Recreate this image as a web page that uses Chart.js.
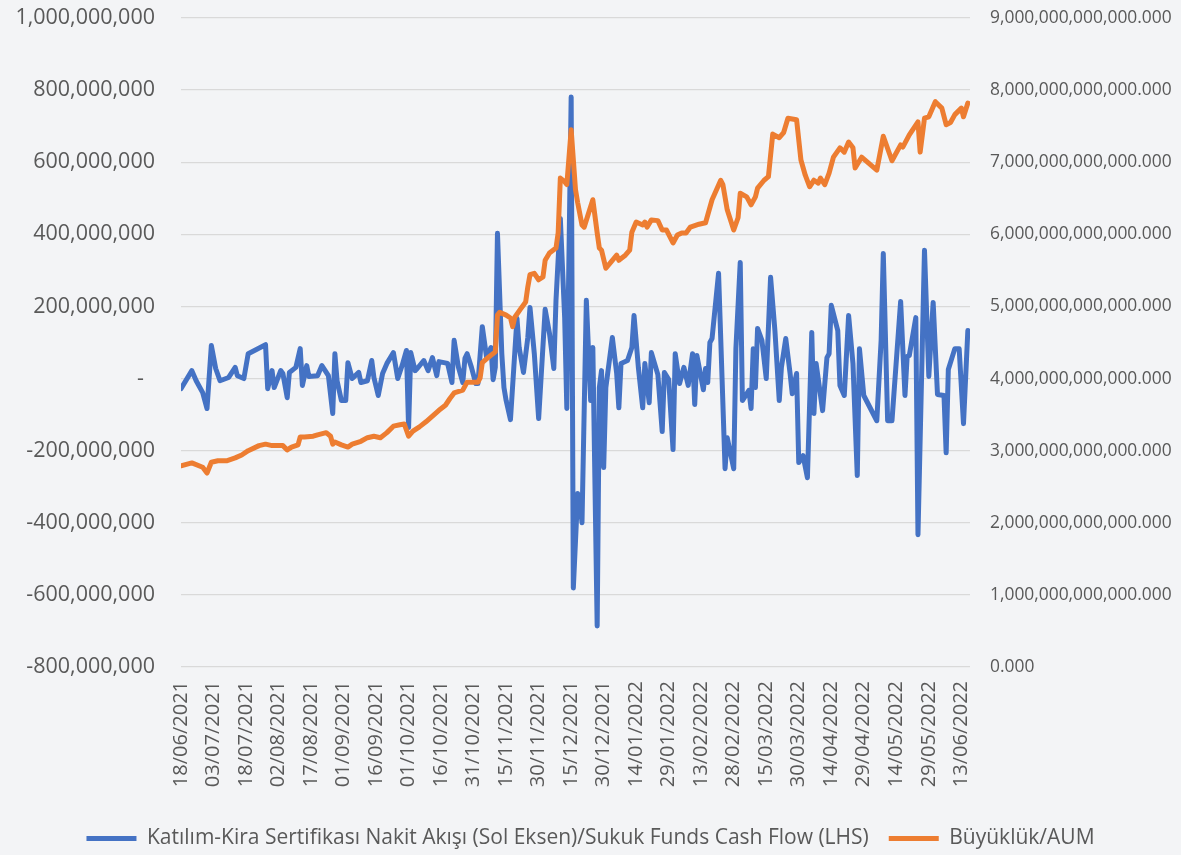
<!DOCTYPE html>
<html>
<head>
<meta charset="utf-8">
<script src="https://cdn.jsdelivr.net/npm/chart.js@4/dist/chart.umd.min.js"></script>
<style>
html,body{margin:0;padding:0;background:#f3f4f6;}
#wrap{width:1181px;height:855px;position:relative;}
</style>
</head>
<body>
<div id="wrap"><canvas id="c" width="1181" height="855"></canvas></div>
<script>
// ---- data (x = days since 18/06/2021) ----
const startDate = [2021, 6, 18];
const seriesNames = ["Katılım-Kira Sertifikası Nakit Akışı (Sol Eksen)/Sukuk Funds Cash Flow (LHS)", "Büyüklük/AUM"];

const flowDays = [0,5,7,10,12,14,16,18,22,25,26,29,31,39,40,42,43,46,47,49,50,53,55,56,58,59,63,65,68,70,
71,72,74,76,77,79,82,83,86,88,89,91,93,95,98,100,102,104,105,106,108,109,112,114,116,118,119,123,125,126,
128,130,131,132,134,136,137,139,141,143,144,145,146,148,149,150,152,155,156,158,160,161,163,165,168,170,172,173,175,177,
178,180,181,183,184,185,187,189,190,192,193,194,195,196,199,201,202,203,206,208,209,211,213,214,216,217,220,222,223,225,
227,228,230,232,234,236,237,238,241,242,243,244,245,248,251,252,255,256,258,259,262,263,264,265,266,268,270,272,274,276,
277,279,281,282,284,285,287,289,291,292,293,296,298,299,300,303,304,306,308,310,312,313,315,321,323,324,326,328,332,334,
335,336,339,340,343,345,347,349,352,353,354,357,359,361,363];
// cash flow, millions
const flowValuesM = [-28,22,-6,-39,-83,92,28,-6,3,31,8,0,69,94,-28,22,-25,22,14,-53,17,31,83,-19,36,6,8,36,8,-97,
69,-6,-61,-61,44,0,17,-11,-6,50,3,-47,14,42,72,0,36,78,-136,72,22,28,50,22,58,8,47,42,-11,106,
31,-11,56,69,31,-14,-14,144,58,86,-3,31,403,69,-25,-61,-114,167,86,17,114,197,69,-111,192,125,28,217,444,169,
-83,781,-581,-319,-339,-400,217,-61,86,-686,-25,22,-247,-25,114,14,-81,42,50,86,175,31,-81,42,-67,72,11,-147,17,-3,
-197,69,-14,31,-19,69,-72,64,-31,28,-11,100,111,292,-250,-164,-250,83,322,-61,-33,-83,83,-25,139,106,0,281,133,-61,
31,111,14,-42,14,-233,-214,-275,128,-97,42,-89,58,69,203,133,-19,-47,175,42,-269,83,-47,-117,106,347,-117,-117,214,-47,
61,64,169,-433,356,6,211,-44,-47,-206,25,83,83,-125,133];

const aumDays = [0,5,10,12,14,17,21,25,28,31,36,39,42,47,49,51,54,55,57,61,63,67,69,70,71,74,77,79,83,86,
89,92,95,98,101,103,105,107,110,113,116,119,122,124,126,130,132,137,138,139,142,145,146,147,150,152,153,154,157,159,
160,161,163,165,167,168,170,173,174,175,177,178,180,182,183,185,186,190,192,193,194,196,199,201,202,205,207,208,210,213,
214,215,217,220,222,224,227,229,231,233,235,237,239,242,245,249,250,252,255,257,258,261,263,265,266,269,271,273,276,278,
280,284,286,288,290,292,294,295,297,299,301,304,306,308,310,311,314,321,324,328,332,333,336,340,341,343,345,348,351,353,
355,357,360,361,363];
// AUM, trillions
const aumValuesT = [2.79,2.83,2.77,2.69,2.84,2.86,2.86,2.90,2.94,3.00,3.07,3.09,3.07,3.07,3.01,3.05,3.08,3.19,3.19,3.20,
3.22,3.25,3.20,3.09,3.12,3.08,3.05,3.09,3.13,3.18,3.20,3.18,3.25,3.34,3.36,3.37,3.20,3.27,3.33,3.40,
3.48,3.56,3.63,3.72,3.80,3.84,3.95,3.95,4.01,4.22,4.30,4.37,4.88,4.92,4.88,4.84,4.72,4.85,4.98,5.06,
5.27,5.44,5.46,5.37,5.41,5.64,5.74,5.81,6.02,6.78,6.73,6.69,7.45,6.62,6.44,6.13,6.10,6.48,6.02,5.81,
5.78,5.53,5.64,5.71,5.64,5.71,5.78,6.03,6.17,6.13,6.17,6.10,6.20,6.19,6.06,6.06,5.88,5.99,6.02,6.02,
6.10,6.12,6.14,6.16,6.48,6.75,6.69,6.34,6.06,6.23,6.57,6.52,6.41,6.52,6.64,6.75,6.80,7.39,7.34,7.41,
7.61,7.59,7.03,6.82,6.66,6.75,6.71,6.78,6.69,6.85,7.07,7.20,7.14,7.28,7.20,6.92,7.07,6.89,7.36,7.02,
7.24,7.21,7.38,7.56,7.14,7.61,7.63,7.84,7.75,7.52,7.55,7.66,7.75,7.63,7.82];

const leftTicksM = [-800,-600,-400,-200,0,200,400,600,800,1000];
const rightTicksT = [0,1,2,3,4,5,6,7,8,9];
const xTickStepDays = 15;
const xMaxDay = 364;

// ---- helpers ----
function groupDigits(n){
  const neg = n < 0; let s = Math.round(Math.abs(n)).toString();
  s = s.replace(/\B(?=(\d{3})+(?!\d))/g, ",");
  return (neg ? "-" : "") + s;
}
function dayLabel(d){
  const dt = new Date(startDate[0], startDate[1]-1, startDate[2] + d);
  const dd = String(dt.getDate()).padStart(2,"0");
  const mm = String(dt.getMonth()+1).padStart(2,"0");
  return dd + "/" + mm + "/" + dt.getFullYear();
}

const BLUE = "#4472C4", ORANGE = "#ED7D31", TXT = "#595959", GRID = "#d9d9d9";
const FONT = "'Open Sans', 'Noto Sans', sans-serif";
const PLOT_BOTTOM = 667;

const bgPlugin = {
  id: "bg",
  beforeDraw(chart){
    const c = chart.ctx; c.save();
    c.fillStyle = "#f3f4f6"; c.fillRect(0,0,chart.width,chart.height);
    c.restore();
  }
};

new Chart(document.getElementById("c"), {
  type: "line",
  data: {
    datasets: [
      {
        label: seriesNames[0],
        data: flowDays.map((d,i)=>({x:d, y:flowValuesM[i]})),
        yAxisID: "yL",
        borderColor: BLUE, backgroundColor: BLUE,
        borderWidth: 5, pointRadius: 0, tension: 0,
        borderJoinStyle: "round", borderCapStyle: "round",
        order: 2
      },
      {
        label: seriesNames[1],
        data: aumDays.map((d,i)=>({x:d, y:aumValuesT[i]})),
        yAxisID: "yR",
        borderColor: ORANGE, backgroundColor: ORANGE,
        borderWidth: 5, pointRadius: 0, tension: 0,
        borderJoinStyle: "round", borderCapStyle: "round",
        order: 1
      }
    ]
  },
  options: {
    responsive: false,
    devicePixelRatio: 1,
    animation: false,
    layout: { padding: { top: 18, bottom: -4, left: 0, right: 0 } },
    plugins: {
      tooltip: { enabled: false },
      legend: {
        position: "bottom",
        labels: {
          color: TXT,
          font: { family: FONT, size: 21, lineHeight: 0.75 },
          boxWidth: 50, boxHeight: 5, padding: 20,
          generateLabels(chart){
            return chart.data.datasets.map((ds,i)=>({
              text: ds.label, fillStyle: ds.borderColor, strokeStyle: ds.borderColor,
              lineWidth: 0, hidden: false, datasetIndex: i, fontColor: TXT
            }));
          }
        }
      }
    },
    scales: {
      x: {
        type: "linear", min: 0, max: xMaxDay,
        grid: { display: false, drawTicks: false },
        border: { display: false },
        afterFit(s){
          const lh = s.chart.legend ? s.chart.legend.height : 50;
          s.height = s.chart.height + 4 - lh - PLOT_BOTTOM;
          s.paddingLeft = 0; s.paddingRight = 0;
        },
        ticks: {
          stepSize: xTickStepDays, autoSkip: false, includeBounds: false,
          maxRotation: 90, minRotation: 90, padding: 14,
          color: TXT, font: { family: FONT, size: 20 },
          callback: (v)=> dayLabel(v)
        }
      },
      yL: {
        position: "left", min: -800, max: 1000,
        afterFit(s){ s.width = 181; s.paddingTop = 0; s.paddingBottom = 0; },
        afterBuildTicks(s){ s.ticks = leftTicksM.map(v=>({value:v})); },
        grid: { color: GRID, lineWidth: 1.3, drawTicks: false },
        border: { display: false },
        ticks: {
          padding: 26, color: TXT, font: { family: FONT, size: 21.5 },
          callback: (v)=> v === 0 ? "-  " : groupDigits(v*1e6)
        }
      },
      yR: {
        position: "right", min: 0, max: 9,
        afterFit(s){ s.width = 211; s.paddingTop = 0; s.paddingBottom = 0; },
        afterBuildTicks(s){ s.ticks = rightTicksT.map(v=>({value:v})); },
        grid: { display: false, drawTicks: false },
        border: { display: false },
        ticks: {
          padding: 20, color: TXT, font: { family: FONT, size: 17.4 },
          callback: (v)=> groupDigits(v*1e12) + ".000"
        }
      }
    }
  },
  plugins: [bgPlugin]
});
</script>
</body>
</html>
